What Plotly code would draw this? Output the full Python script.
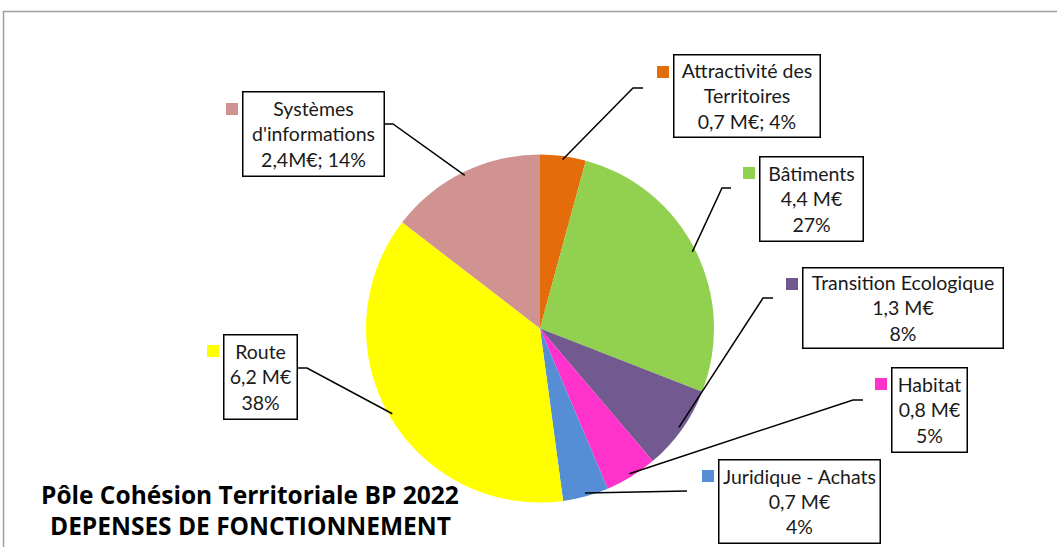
import numpy as np
import plotly.graph_objects as go

W, H = 1057, 547

# data (clockwise from 12 o'clock)
categories = ["Attractivité des Territoires", "Bâtiments", "Transition Ecologique",
              "Habitat", "Juridique - Achats", "Route", "Systèmes d'informations"]
values = [0.7, 4.4, 1.3, 0.8, 0.7, 6.2, 2.4]
label_texts = [
    "Attractivité des<br>Territoires<br>0,7 M€; 4%",
    "Bâtiments<br>4,4 M€<br>27%",
    "Transition Ecologique<br>1,3 M€<br>8%",
    "Habitat<br>0,8 M€<br>5%",
    "Juridique - Achats<br>0,7 M€<br>4%",
    "Route<br>6,2 M€<br>38%",
    "Systèmes<br>d'informations<br>2,4M€; 14%",
]
title_lines = ["Pôle Cohésion Territoriale BP 2022", "DEPENSES DE FONCTIONNEMENT"]
colors = ["#E46C0A", "#92D050", "#725A90", "#FF33CC", "#558ED5", "#FFFF00", "#D09392"]

# label layout in screen pixels: box (x0, y0, x1, y1), elbow point, stub end
label_boxes = [
    (673, 55, 820, 138), (759, 156, 863, 241), (802, 267, 1003, 348),
    (891, 367, 967, 452), (718, 459, 880, 543), (223, 334, 297, 419),
    (242, 92, 384, 177),
]
elbows = [(633, 88), (722, 188), (763, 298), (853, 400), (687, 491), (307, 368), (393, 124)]
stubs = [(643, 88), (731, 188), (773, 298), (863, 400), (687, 491), (297, 368), (384, 124)]

CX, CY, R = 540, 328.5, 174
FONT = "Lato, 'Open Sans', sans-serif"


def px(x, y):
    return x / W, 1 - y / H


d0 = px(CX - R, CY + R)
d1 = px(CX + R, CY - R)
fig = go.Figure(go.Pie(
    labels=categories, values=values, sort=False, direction="clockwise", rotation=0,
    marker=dict(colors=colors, line=dict(width=0)),
    textinfo="none", hoverinfo="label+value+percent", showlegend=False,
    domain=dict(x=[d0[0], d1[0]], y=[d0[1], d1[1]]),
))

f0 = px(3.5, 11.5)
shapes = [dict(type="rect", xref="paper", yref="paper", x0=f0[0], x1=1.05, y0=-0.05,
               y1=f0[1], line=dict(color="#A0A0A0", width=1.5))]
annotations = []

total = sum(values)
cum = np.cumsum([0] + values[:-1])
for i, v in enumerate(values):
    mid = (cum[i] + v / 2) / total * 2 * np.pi
    a = px(CX + 0.98 * R * np.sin(mid), CY - 0.98 * R * np.cos(mid))
    e = px(*elbows[i])
    s = px(*stubs[i])
    shapes.append(dict(type="path", xref="paper", yref="paper",
                       path=f"M {a[0]},{a[1]} L {e[0]},{e[1]} L {s[0]},{s[1]}",
                       line=dict(color="black", width=1.5)))
    x0, y0, x1, y1 = label_boxes[i]
    # legend key square
    k0 = px(x0 - 16, y0 + 11)
    k1 = px(x0 - 4, y0 + 23)
    shapes.append(dict(type="rect", xref="paper", yref="paper", x0=k0[0], y0=k0[1],
                       x1=k1[0], y1=k1[1], fillcolor=colors[i], line=dict(width=0)))
    c = px((x0 + x1) / 2, (y0 + y1) / 2)
    annotations.append(dict(
        x=c[0], y=c[1], xref="paper", yref="paper", text=label_texts[i], showarrow=False,
        xanchor="center", yanchor="middle", align="center",
        width=x1 - x0 - 2, height=y1 - y0 - 2, borderpad=0,
        bordercolor="black", borderwidth=1.5, bgcolor="white",
        font=dict(family=FONT, size=19.5, color="#1a1a1a"),
    ))

for line, ty in zip(title_lines, [494, 525]):
    t = px(250, ty)
    annotations.append(dict(
        x=t[0], y=t[1], xref="paper", yref="paper", showarrow=False,
        text=f"<b>{line}</b>", xanchor="center", yanchor="middle",
        font=dict(family="'Open Sans', sans-serif", size=24.5, color="black"),
    ))

fig.update_layout(
    width=W, height=H, margin=dict(l=0, r=0, t=0, b=0),
    paper_bgcolor="white", plot_bgcolor="white",
    shapes=shapes, annotations=annotations,
)

# drop the page's default body margin so the figure sits at the window's corner
fig.write_html("out.html", config={"displayModeBar": False},
               post_script="document.body.style.margin = '0';")
